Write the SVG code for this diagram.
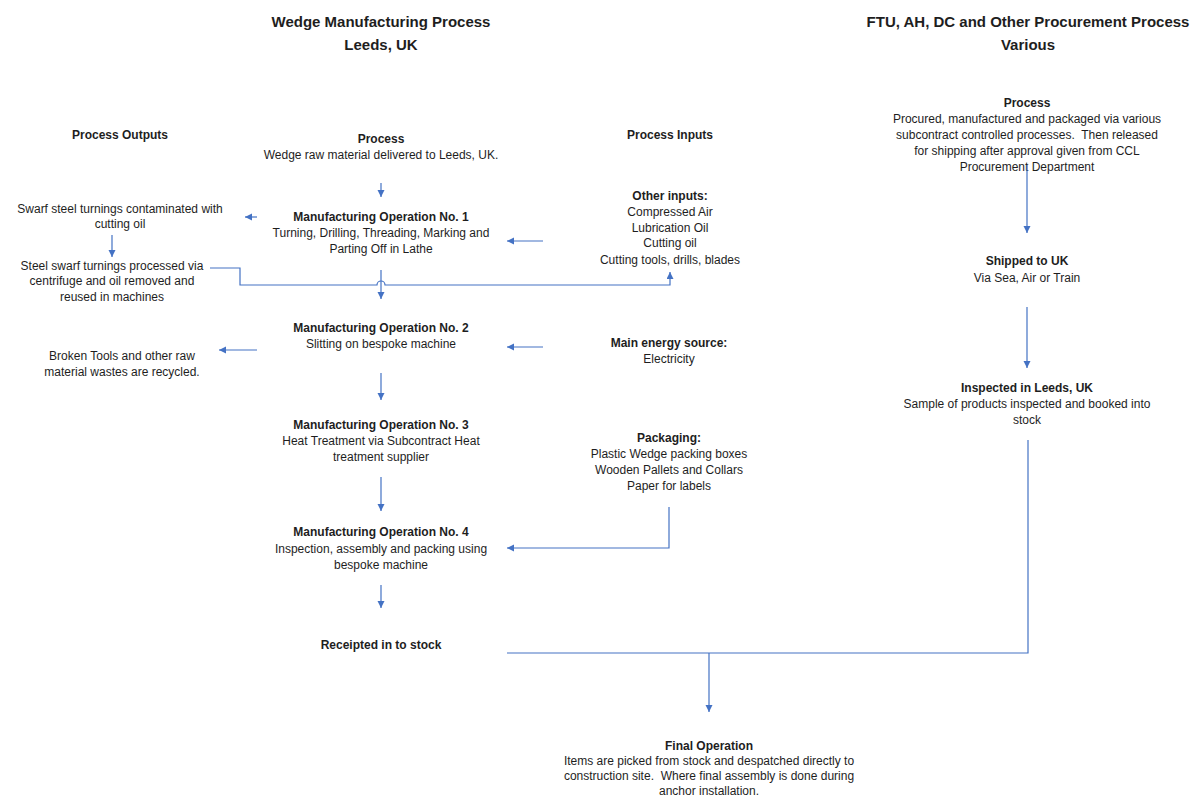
<svg xmlns="http://www.w3.org/2000/svg" width="1199" height="798" viewBox="0 0 1199 798">
<style>
text{font-family:"Liberation Sans",Arial,sans-serif;font-size:12px;fill:#1e1e1e;text-anchor:middle;white-space:pre}
.b{font-weight:bold}
.h{font-weight:bold;font-size:15px}
.c{fill:none;stroke:#4472C4;stroke-width:1.2}
</style>
<defs>
<marker id="ah" markerUnits="userSpaceOnUse" markerWidth="8" markerHeight="8" refX="7" refY="3.5" orient="auto">
<path d="M0,0 L7,3.5 L0,7 z" fill="#4472C4"/>
</marker>
</defs>
<rect width="1199" height="798" fill="#fff"/>

<g id="headings">
<text class="h" x="381" y="27">Wedge Manufacturing Process</text>
<text class="h" x="381" y="50">Leeds, UK</text>
<text class="h" x="1028" y="27">FTU, AH, DC and Other Procurement Process</text>
<text class="h" x="1028" y="50">Various</text>
</g>

<g id="process-outputs-label"><text class="b" x="120" y="139">Process Outputs</text></g>
<g id="process-inputs-label"><text class="b" x="670" y="139">Process Inputs</text></g>

<g id="process">
<text class="b" x="381" y="143">Process</text>
<text x="381" y="159">Wedge raw material delivered to Leeds, UK.</text>
</g>
<g id="op1">
<text class="b" x="381" y="221">Manufacturing Operation No. 1</text>
<text x="381" y="237">Turning, Drilling, Threading, Marking and</text>
<text x="381" y="253">Parting Off in Lathe</text>
</g>
<g id="swarf">
<text x="120" y="213">Swarf steel turnings contaminated with</text>
<text x="120" y="228">cutting oil</text>
</g>
<g id="steel-swarf">
<text x="112" y="270">Steel swarf turnings processed via</text>
<text x="112" y="285">centrifuge and oil removed and</text>
<text x="112" y="301">reused in machines</text>
</g>
<g id="other-inputs">
<text class="b" x="670" y="200">Other inputs:</text>
<text x="670" y="216">Compressed Air</text>
<text x="670" y="232">Lubrication Oil</text>
<text x="670" y="247">Cutting oil</text>
<text x="670" y="264">Cutting tools, drills, blades</text>
</g>
<g id="op2">
<text class="b" x="381" y="332">Manufacturing Operation No. 2</text>
<text x="381" y="348">Slitting on bespoke machine</text>
</g>
<g id="broken-tools">
<text x="122" y="360">Broken Tools and other raw</text>
<text x="122" y="376">material wastes are recycled.</text>
</g>
<g id="energy">
<text class="b" x="669" y="347">Main energy source:</text>
<text x="669" y="363">Electricity</text>
</g>
<g id="op3">
<text class="b" x="381" y="429">Manufacturing Operation No. 3</text>
<text x="381" y="445">Heat Treatment via Subcontract Heat</text>
<text x="381" y="461">treatment supplier</text>
</g>
<g id="packaging">
<text class="b" x="669" y="442">Packaging:</text>
<text x="669" y="458">Plastic Wedge packing boxes</text>
<text x="669" y="474">Wooden Pallets and Collars</text>
<text x="669" y="490">Paper for labels</text>
</g>
<g id="op4">
<text class="b" x="381" y="536">Manufacturing Operation No. 4</text>
<text x="381" y="553">Inspection, assembly and packing using</text>
<text x="381" y="569">bespoke machine</text>
</g>
<g id="receipted">
<text class="b" x="381" y="649">Receipted in to stock</text>
</g>
<g id="final">
<text class="b" x="709" y="750">Final Operation</text>
<text x="709" y="765">Items are picked from stock and despatched directly to</text>
<text x="709" y="780">construction site.  Where final assembly is done during</text>
<text x="709" y="795">anchor installation.</text>
</g>
<g id="proc-process">
<text class="b" x="1027" y="107">Process</text>
<text x="1027" y="123">Procured, manufactured and packaged via various</text>
<text x="1027" y="139">subcontract controlled processes.  Then released</text>
<text x="1027" y="155">for shipping after approval given from CCL</text>
<text x="1027" y="171">Procurement Department</text>
</g>
<g id="shipped">
<text class="b" x="1027" y="265">Shipped to UK</text>
<text x="1027" y="282">Via Sea, Air or Train</text>
</g>
<g id="inspected">
<text class="b" x="1027" y="392">Inspected in Leeds, UK</text>
<text x="1027" y="408">Sample of products inspected and booked into</text>
<text x="1027" y="424">stock</text>
</g>

<g id="connectors">
<path class="c" marker-end="url(#ah)" d="M381,183 V197"/>
<path class="c" marker-end="url(#ah)" d="M257,217 H245"/>
<path class="c" marker-end="url(#ah)" d="M112,235 V257"/>
<path class="c" marker-end="url(#ah)" d="M543,241 H507"/>
<path class="c" marker-end="url(#ah)" d="M210,268 H240 V285 H377 A4,4 0 0 1 385,285 H670 V272"/>
<path class="c" marker-end="url(#ah)" d="M381,270 V299"/>
<path class="c" marker-end="url(#ah)" d="M257,350 H219"/>
<path class="c" marker-end="url(#ah)" d="M543,347 H507"/>
<path class="c" marker-end="url(#ah)" d="M381,373 V400"/>
<path class="c" marker-end="url(#ah)" d="M381,477 V511"/>
<path class="c" marker-end="url(#ah)" d="M669,507 V548 H507"/>
<path class="c" marker-end="url(#ah)" d="M381,585 V608"/>
<path class="c" d="M507,653 H1028 V440"/>
<path class="c" marker-end="url(#ah)" d="M709,653 V712"/>
<path class="c" marker-end="url(#ah)" d="M1027,165 V233"/>
<path class="c" marker-end="url(#ah)" d="M1027,307 V368"/>
</g>
</svg>
